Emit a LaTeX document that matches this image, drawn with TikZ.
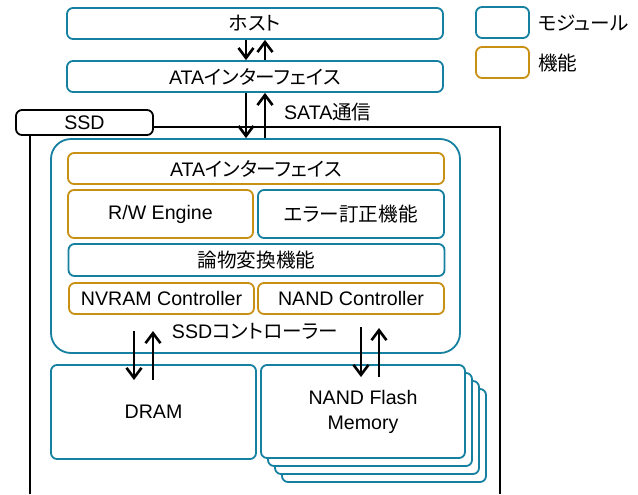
\documentclass[tikz,border=0pt]{standalone}
\usepackage{fontspec}
\setmainfont{Liberation Sans}
\newfontfamily\jp[RawFeature=+palt]{Noto Sans CJK JP}
\usetikzlibrary{arrows.meta}

\definecolor{modblue}{RGB}{21,128,160}
\definecolor{funcgold}{RGB}{200,145,20}

\tikzset{
	box/.style={rounded corners=3pt, line width=0.9pt, fill=white, inner sep=0pt, align=center},
	module/.style={box, draw=modblue},
	func/.style={box, draw=funcgold},
	flow/.style={line width=1.3pt, -{Straight Barb[length=5pt,width=7.5pt]}},
}

\begin{document}
\begin{tikzpicture}[x=0.5pt,y=-0.5pt,font=\fontsize{9.8}{12.5}\selectfont]
	\useasboundingbox (0,0) rectangle (638,494);
	% host side
	\node[module,minimum width=188pt,minimum height=15.5pt] (host) at (255,23.5) {\jp ホスト};
	\node[module,minimum width=188pt,minimum height=15.5pt] (ata) at (255,76.5) {ATA{\jp インターフェイス}};
	% legend
	\node[module,minimum width=26.5pt,minimum height=15.5pt] (keymod) at (502.5,22.5) {};
	\node[anchor=west] (keymodtext) at (531,23) {\jp モジュール};
	\node[func,minimum width=26.5pt,minimum height=15.5pt] (keyfunc) at (502.5,62.5) {};
	\node[anchor=west] (keyfunctext) at (531,63) {\jp 機能};
	% ssd case
	\draw[line width=1pt] (30,494) |- (500,127) -- (500,494);
	\node[box,draw=black,minimum width=68.5pt,minimum height=12.5pt] (ssd) at (84.5,122.5) {SSD};
	\node[anchor=west] (sata) at (277,112) {SATA{\jp 通信}};
	% controller
	\node[module,rounded corners=10pt,minimum width=204.5pt,minimum height=107pt] (ctrl) at (255.5,246) {};
	\node (ctrltext) at (255,331) {SSD{\jp コントローラー}};
	\node[func,minimum width=188pt,minimum height=15.5pt] (ata2) at (256,168.5) {ATA{\jp インターフェイス}};
	\node[func,minimum width=92.5pt,minimum height=24pt] (rw) at (160.5,214) {R/W Engine};
	\node[module,minimum width=93pt,minimum height=24pt] (ecc) at (351,214) {\jp エラー訂正機能};
	\node[module,minimum width=188pt,minimum height=16pt] (l2p) at (256.5,260) {\jp 論物変換機能};
	\node[func,minimum width=92.5pt,minimum height=15.5pt] (nvram) at (161.5,298.5) {NVRAM Controller};
	\node[func,minimum width=93pt,minimum height=15.5pt] (nandc) at (351,298.5) {NAND Controller};
	% memories
	\node[module,minimum width=102.5pt,minimum height=47pt] (dram) at (153.5,412) {DRAM};
	\foreach \i in {3,2,1}
		\node[module,minimum width=102pt,minimum height=46.5pt] (nand\i) at (363+7*\i,411.5+8*\i) {};
	\node[module,minimum width=102pt,minimum height=46.5pt] (nand) at (363,411.5) {NAND Flash\\Memory};
	% data paths
	\draw[flow] ([xshift=-4.5pt]host.south) -- ([xshift=-4.5pt]ata.north);
	\draw[flow] ([xshift=5pt]ata.north) -- ([xshift=5pt]host.south);
	\draw[flow] ([xshift=-4.5pt]ata.south) -- ([xshift=-4.75pt]ctrl.north);
	\draw[flow] ([xshift=4.75pt]ctrl.north) -- ([xshift=5pt]ata.south);
	\coordinate (dramout) at (134,331);
	\coordinate (dramin) at (134,380);
	\coordinate (dramret) at (153,380);
	\coordinate (dramback) at (153,331);
	\draw[flow] (dramout) -- (dramin);
	\draw[flow] (dramret) -- (dramback);
	\coordinate (nandout) at (361,327);
	\coordinate (nandin) at (361,377);
	\coordinate (nandret) at (379,377);
	\coordinate (nandback) at (379,328);
	\draw[flow] (nandout) -- (nandin);
	\draw[flow] (nandret) -- (nandback);
\end{tikzpicture}
\end{document}
